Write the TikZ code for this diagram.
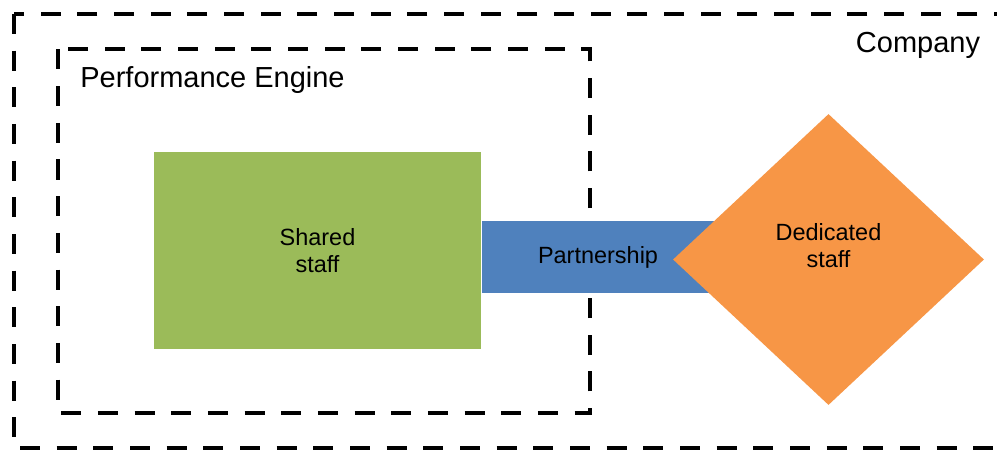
\documentclass[tikz,border=0pt]{standalone}
\usepackage{fontspec}
\setmainfont{Liberation Sans}
\usetikzlibrary{shapes.geometric,positioning}
\definecolor{staffgreen}{HTML}{9BBB59}
\definecolor{partnerblue}{HTML}{4F81BD}
\definecolor{dedorange}{HTML}{F79646}
\tikzset{%
  dashbox/.style={draw=black,line width=3pt,dash pattern=on 15pt off 12.5pt},
  bigtext/.style={font=\fontsize{21.75pt}{26pt}\selectfont,inner sep=0pt},
  smalltext/.style={font=\fontsize{17.6pt}{20pt}\selectfont,align=center,inner sep=0pt},
  sharedbox/.style={shape=rectangle,fill=staffgreen,minimum width=245.25pt,minimum height=147.75pt,smalltext},
  partnerbox/.style={shape=rectangle,fill=partnerblue,minimum width=174.75pt,minimum height=54pt,smalltext},
  dedicatedbox/.style={shape=diamond,fill=dedorange,inner sep=0pt,aspect=1.07,minimum width=233.25pt,minimum height=218.25pt}
}

\begin{document}
\begin{tikzpicture}[x=0.75pt,y=-0.75pt]
      \useasboundingbox (0,0) rectangle (997,453);
      \clip (0,0) rectangle (997,453);
      % company and engine frames
      \draw[dashbox] (14,14) -- (14,448) -- (1015,448) -- (1015,14) -- cycle;
      \draw[dashbox] (58,49.5) -- (58,413) -- (589.5,413) -- (589.5,49.5) -- cycle;
      \path
        (918,53) node (company)[bigtext,anchor=base]{Company}
        (212.5,88) node (engine)[bigtext,anchor=base]{Performance Engine};
      % staff and partnership
      \path
        (317.5,250.5) node (shared)[sharedbox]{Shared\\staff};
      \node (partnership)[partnerbox,right=0pt of shared,yshift=-4.875pt] {Partnership};
      \path
        (828.5,259.5) node (dedicated)[dedicatedbox]{}
        (828.5,245.5) node (dedicatedtext)[smalltext]{Dedicated\\staff};
    \end{tikzpicture}
\end{document}
